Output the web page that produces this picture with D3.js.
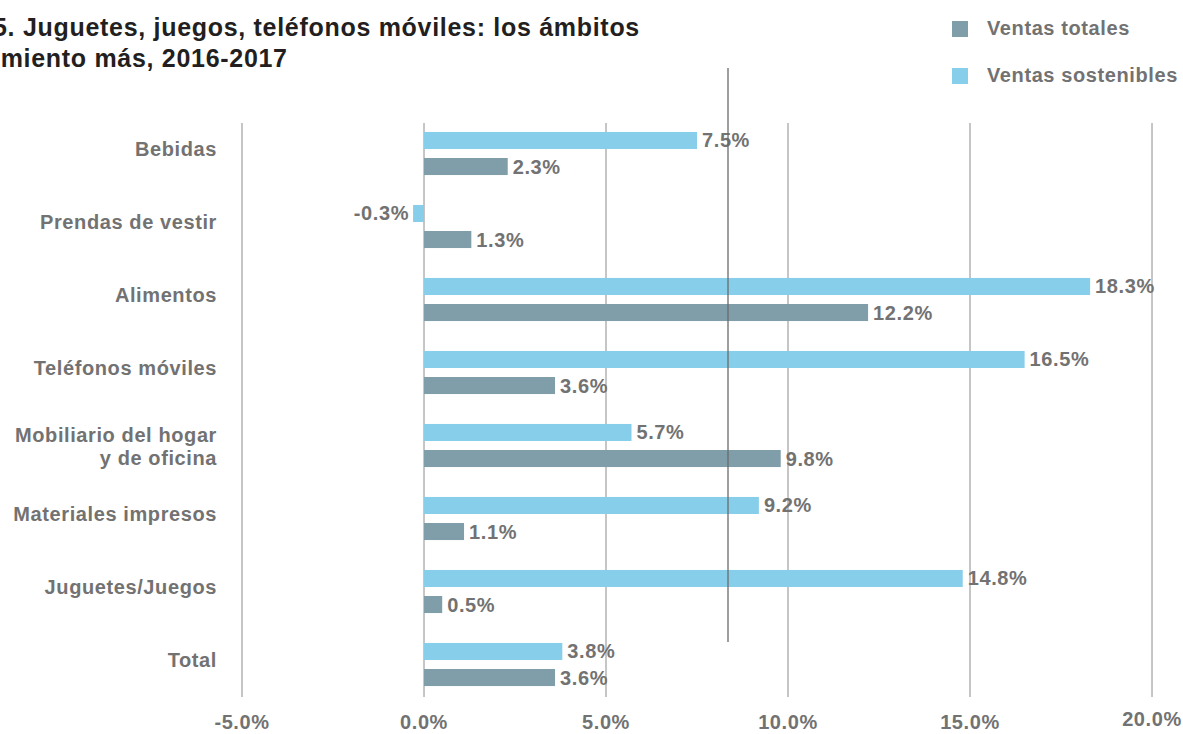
<!DOCTYPE html>
<html>
<head>
<meta charset="utf-8">
<script src="https://d3js.org/d3.v7.min.js"></script>
<style>
  body { margin: 0; background: #fff; }
  svg { display: block; font-family: "Liberation Sans", Arial, sans-serif; }
</style>
</head>
<body>
<div id="chart"></div>
<script>
var categories = ["Bebidas", "Prendas de vestir", "Alimentos", "Teléfonos móviles",
  "Mobiliario del hogar\ny de oficina", "Materiales impresos", "Juguetes/Juegos", "Total"];
var sostenibles = [7.5, -0.3, 18.3, 16.5, 5.7, 9.2, 14.8, 3.8];
var totales = [2.3, 1.3, 12.2, 3.6, 9.8, 1.1, 0.5, 3.6];
var ticks = [-5, 0, 5, 10, 15, 20];
var seriesNames = ["Ventas totales", "Ventas sostenibles"];
var titleLines = ["5. Juguetes, juegos, teléfonos móviles: los ámbitos", "imiento más, 2016-2017"];

var width = 1183, height = 734;
var colTotal = "#7f9eaa", colSost = "#87ceeb", textGray = "#727272";
var fmt = d => d3.format(".1f")(d).replace("−", "-") + "%";

var svg = d3.select("#chart").append("svg").attr("width", width).attr("height", height);

var x = d3.scaleLinear().domain([-5, 20]).range([242, 1152]);
var y = d3.scaleBand().domain(categories).range([117, 701]).paddingInner(0.41).paddingOuter(0.205);
var ySub = d3.scaleBand().domain(["sost", "total"]).range([0, y.bandwidth()]).paddingInner(0.346);

function label(sel) {
  return sel.attr("fill", textGray)
    .style("font-size", "20px").style("font-weight", "bold").style("letter-spacing", "0.6px");
}

// gridlines
svg.append("g").selectAll("line")
  .data(ticks)
  .enter().append("line")
    .attr("x1", d => x(d)).attr("x2", d => x(d))
    .attr("y1", 123).attr("y2", 697)
    .attr("stroke", "#8c8c8c").attr("stroke-width", 1);

// tick labels
svg.append("g").selectAll("text")
  .data(ticks)
  .enter().append("text")
    .attr("x", d => x(d))
    .attr("y", d => d == 20 ? 726 : 729)
    .attr("text-anchor", "middle")
    .call(label)
    .text(fmt);

var rows = categories.map((c, i) => ({cat: c, sost: sostenibles[i], total: totales[i]}));

var groups = svg.append("g").selectAll("g")
  .data(rows)
  .enter().append("g")
    .attr("transform", d => "translate(0," + y(d.cat) + ")");

[["sost", colSost], ["total", colTotal]].forEach(function(s) {
  var key = s[0];
  groups.append("rect")
    .attr("x", d => x(Math.min(0, d[key])))
    .attr("y", ySub(key))
    .attr("width", d => Math.abs(x(d[key]) - x(0)))
    .attr("height", ySub.bandwidth())
    .attr("fill", s[1]);
  groups.append("text")
    .attr("x", d => d[key] < 0 ? x(d[key]) - 4 : x(d[key]) + 5)
    .attr("y", ySub(key) + ySub.bandwidth() / 2 + 7)
    .attr("text-anchor", d => d[key] < 0 ? "end" : "start")
    .call(label)
    .text(d => fmt(d[key]));
});

// category labels
groups.each(function(d) {
  var lines = d.cat.split("\n");
  var t = d3.select(this).append("text")
    .attr("text-anchor", "end")
    .call(label);
  var c = y.bandwidth() / 2;
  lines.forEach(function(l, i) {
    var yy = lines.length == 1 ? c + 3 : c + 8 + (i - (lines.length - 1) / 2) * 23;
    t.append("tspan").attr("x", 217).attr("y", yy).text(l);
  });
});

// stray vertical rule
svg.append("line")
  .attr("x1", 728).attr("x2", 728).attr("y1", 68).attr("y2", 642)
  .attr("stroke", "#6a6a6a").attr("stroke-width", 1.3);

// title
svg.append("g").selectAll("text")
  .data(titleLines)
  .enter().append("text")
    .attr("x", -7)
    .attr("y", (d, i) => 36 + i * 31)
    .attr("fill", "#231f20")
    .style("font-size", "25px").style("font-weight", "bold").style("letter-spacing", "0.7px")
    .text(d => d);

// legend
var legend = svg.append("g").selectAll("g")
  .data(seriesNames)
  .enter().append("g")
    .attr("transform", (d, i) => "translate(952," + (21 + i * 47) + ")");
legend.append("rect").attr("width", 16).attr("height", 16)
  .attr("fill", (d, i) => i == 0 ? colTotal : colSost);
legend.append("text").attr("x", 35).attr("y", 14)
  .call(label)
  .text(d => d);
</script>
</body>
</html>
